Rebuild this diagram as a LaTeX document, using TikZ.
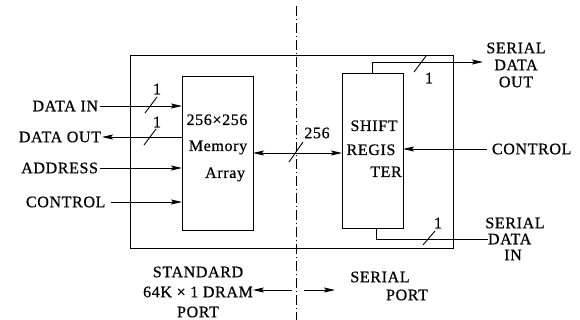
\documentclass[tikz,border=0pt]{standalone}
\usepackage{fontspec}
\setmainfont[LetterSpace=4,FakeBold=0.6]{Liberation Serif}
\usetikzlibrary{arrows.meta}
\begin{document}
\begin{tikzpicture}[x=1pt,y=-1pt,
  every node/.style={font=\fontsize{16}{17}\selectfont, inner sep=0pt, outer sep=0pt},
  box/.style={draw, line width=0.9pt},
  chip/.style={draw, line width=0.7pt},
  sig/.style={line width=0.8pt},
  arr/.style={sig, -{Stealth[length=11pt,width=5pt,inset=2pt]}},
  barr/.style={sig, {Stealth[length=11pt,width=5pt,inset=2pt]}-{Stealth[length=11pt,width=5pt,inset=2pt]}},
  bus/.style={line width=0.9pt},
  divider/.style={line width=0.8pt, dash pattern=on 10pt off 3pt on 1pt off 3pt},
  lbl/.style={align=center}
]
\useasboundingbox (0,0) rectangle (580,320);
\fill[white] (0,0) rectangle (580,320);

% boxes
\node[chip, minimum width=323pt, minimum height=193pt] (chipbox) at (291.5,151.5) {};
\node[box, minimum width=71pt, minimum height=154pt] (mem) at (217.5,153) {};
\node[box, minimum width=61pt, minimum height=155pt] (shift) at (372.5,150.5) {};

% divider
\coordinate (dtop) at (296,6);
\coordinate (dbot) at (296,320);
\draw[divider] (dtop) -- (dbot);

% memory text
\node[anchor=base] (m1) at (217,125) {256×256};
\node[anchor=base] (m2) at (218,151) {Memory};
\node[anchor=base east] (m3) at (245,178) {Array};

% shift text
\node[anchor=base] (s1) at (374,131) {SHIFT};
\node[anchor=base] (s2) at (371,155) {REGIS};
\node[anchor=base] (s3) at (386,177) {TER};

% left labels
\node[anchor=east] (din) at (98,106) {DATA IN};
\node[anchor=east] (dout) at (101,137) {DATA OUT};
\node[anchor=east] (addr) at (98,168) {ADDRESS};
\node[anchor=west] (ctl) at (26,202) {CONTROL};

\draw[arr] ([xshift=2pt]din.east) -- (din.east -| mem.west);
\draw[arr] (dout.east -| mem.west) -- ([xshift=1pt]dout.east);
\draw[arr] ([xshift=2pt]addr.east) -- (addr.east -| mem.west);
\draw[arr] ([xshift=6pt]ctl.east) -- (ctl.east -| mem.west);

\coordinate (sl1) at (151,105);
\coordinate (sl2) at (150,137);
\draw[bus] ([shift={(-6,8)}]sl1) -- ([shift={(6,-8)}]sl1);
\draw[bus] ([shift={(-6,8)}]sl2) -- ([shift={(6,-8)}]sl2);
\node (n1) at (157,89) {1};
\node (n2) at (157,122) {1};

% middle bus
\draw[barr] (mem.east) -- (mem.east -| shift.west);
\coordinate (sl3) at (296,152);
\draw[bus] ([shift={(-7,10)}]sl3) -- ([shift={(7,-10)}]sl3);
\node (n256) at (317,133) {256};

% right control
\node[anchor=west] (ctlr) at (492,149) {CONTROL};
\draw[arr] ([xshift=-5pt]ctlr.west) -- (ctlr.west -| shift.east);

% serial data out
\node[lbl] (sdo) at (516,65) {SERIAL\\DATA\\OUT};
\coordinate (so1) at (372,73);
\coordinate (so2) at (372,62);
\draw[arr] (so1) -- (so2) -- (so2 -| 483,0);
\coordinate (sl4) at (420,64);
\draw[bus] ([shift={(-6,8)}]sl4) -- ([shift={(6,-8)}]sl4);
\node (n3) at (429,78) {1};

% serial data in
\node (sdi1) at (515,223) {SERIAL};
\node[anchor=west] (sdi2) at (488,239) {DATA};
\node (sdi3) at (513,255) {IN};
\coordinate (si1) at (376,228);
\coordinate (si2) at (376,239);
\draw[sig] (si1) -- (si2) -- (sdi2.west);
\coordinate (sl5) at (429,238);
\draw[bus] ([shift={(-6,7)}]sl5) -- ([shift={(6,-7)}]sl5);
\node (n4) at (438,223) {1};

% ports
\node[lbl, font=\fontsize{16}{20}\selectfont] (std) at (198,292) {STANDARD\\64K × 1 DRAM\\PORT};
\node (sp1) at (380,277) {SERIAL};
\node (sp2) at (407,295) {PORT};
\coordinate (lp) at (292,290);
\coordinate (rp0) at (304,290);
\coordinate (rp) at (335,290);
\draw[arr] (lp) -- (std.east |- lp);
\draw[arr] (rp0) -- (rp);
\end{tikzpicture}
\end{document}
